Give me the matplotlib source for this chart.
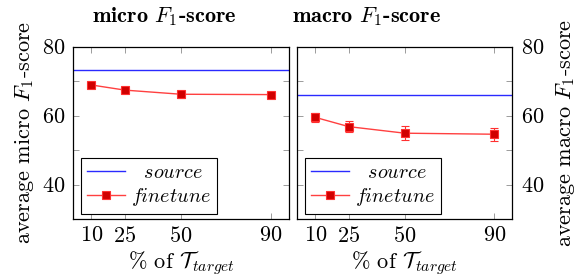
import matplotlib
matplotlib.use("Agg")
import matplotlib.pyplot as plt

# ---- data ----
pct = [10, 25, 50, 90]
micro_source = 73.3
micro_finetune = [68.9, 67.4, 66.2, 66.1]
micro_err = [0.7, 0.7, 1.0, 0.7]
macro_source = 66.0
macro_finetune = [59.5, 56.8, 54.9, 54.6]
macro_err = [1.3, 1.6, 2.0, 1.9]
yticks = [40, 60, 80]
titles = [r"micro $F_1$-score", r"macro $F_1$-score"]

plt.rcParams["font.family"] = ["cmr10", "DejaVu Serif"]
plt.rcParams["mathtext.fontset"] = "cm"
plt.rcParams["axes.formatter.use_mathtext"] = True

FS = 16
LFS = 14.5
fig = plt.figure(figsize=(5.76, 2.79), dpi=100)
W, H = 576, 279

def add_ax(x0, x1, y0, y1):
    return fig.add_axes([x0 / W, 1 - y1 / H, (x1 - x0) / W, (y1 - y0) / H])

ax1 = add_ax(73.3, 288.7, 46.7, 219)
ax2 = add_ax(297.3, 512.3, 46.7, 219)

red_line = "#ff4040"
red_face = "#d00000"
blue = "#2a2aff"

for ax, src, fin, err in [(ax1, micro_source, micro_finetune, micro_err),
                           (ax2, macro_source, macro_finetune, macro_err)]:
    ax.axhline(src, color=blue, lw=1.0, label=r"$\;\;\,source$")
    ax.errorbar(pct, fin, yerr=err, fmt="none", ecolor="#ff3030",
                elinewidth=0.8, capsize=3, capthick=0.8)
    ax.plot(pct, fin, color=red_line, lw=1.0, marker="s",
            markersize=6.3, markerfacecolor=red_face, markeredgecolor="#ff3030",
            markeredgewidth=0.8, label=r"$finetune$")
    ax.set_xlim(2, 98)
    ax.set_ylim(30, 80)
    ax.set_xticks(pct)
    ax.set_yticks(yticks)
    ax.set_yticks([50, 70], minor=True)
    ax.tick_params(which="both", direction="in", top=True, right=True,
                   length=4, width=0.6, color="0.55", labelsize=FS, pad=6)
    ax.tick_params(which="minor", length=4)
    for s in ax.spines.values():
        s.set_linewidth(0.9)
    ax.set_xlabel(r"% of $\mathcal{T}_{target}$", fontsize=FS, labelpad=2)
    leg = ax.legend(loc="lower left", bbox_to_anchor=(0.034, 0.029), borderaxespad=0,
                    fontsize=LFS, frameon=True, fancybox=False, edgecolor="black",
                    framealpha=1, handlelength=1.9, handletextpad=0.3,
                    labelspacing=0.2, borderpad=0.3)
    leg.get_frame().set_linewidth(0.8)

ax1.set_ylabel(r"average micro $F_1$-score", fontsize=FS, labelpad=4)
ax2.yaxis.set_label_position("right")
ax2.tick_params(axis="y", labelleft=False, labelright=True)
ax2.set_ylabel(r"average macro $F_1$-score", fontsize=FS, labelpad=7, rotation=90)
ax1.tick_params(axis="x", pad=5)
ax2.tick_params(axis="x", pad=5)

fig.text(164.5 / W, 1 - 17 / H, titles[0], fontsize=FS, ha="center", va="center",
         family=["cmb10", "DejaVu Serif"])
fig.text(367 / W, 1 - 17 / H, titles[1], fontsize=FS, ha="center", va="center",
         family=["cmb10", "DejaVu Serif"])

fig.savefig("out.png", dpi=100)
